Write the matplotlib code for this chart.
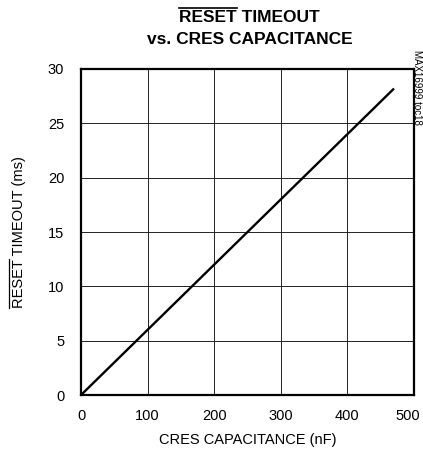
import matplotlib
matplotlib.use('Agg')
import matplotlib.pyplot as plt
import matplotlib.transforms as mtransforms
from matplotlib.lines import Line2D
from matplotlib import font_manager

names = {f.name for f in font_manager.fontManager.ttflist}
narrow = 'Liberation Sans Narrow' if 'Liberation Sans Narrow' in names else 'Liberation Sans'
plt.rcParams['font.family'] = [narrow, 'DejaVu Sans']

# data: RESET timeout vs CRES capacitance
cap_nf = [0, 470]
timeout_ms = [0, 28.2]
x_ticks = [0, 100, 200, 300, 400, 500]
y_ticks = [0, 5, 10, 15, 20, 25, 30]

fig = plt.figure(figsize=(4.23, 4.59), dpi=100)
ax = fig.add_axes([0.1915, 0.1394, 0.7872, 0.7103])

ax.plot(cap_nf, timeout_ms, color='black', lw=1.7, solid_capstyle='butt')
ax.set_xlim(0, 500)
ax.set_ylim(0, 30)
ax.set_xticks(x_ticks)
ax.set_yticks(y_ticks)
ax.grid(True, color='#222222', lw=0.7)
ax.tick_params(length=0, labelsize=10.5)
ax.tick_params(axis='y', pad=12)
ax.tick_params(axis='x', labelbottom=False)
for s in ax.spines.values():
    s.set_linewidth(1.6)

# x tick labels drawn by hand so the last one stays inside the picture
trans = mtransforms.blended_transform_factory(ax.transData, ax.transAxes)
for i, v in enumerate(x_ticks):
    last = i == len(x_ticks) - 1
    off = mtransforms.ScaledTranslation(4.5 / 72 if last else 0, -10 / 72,
                                        fig.dpi_scale_trans)
    ax.text(v, 0, str(v), transform=trans + off, fontsize=10.5,
            ha='right' if last else 'center', va='top')

ax.set_xlabel('CRES CAPACITANCE (nF)', fontsize=10.5, labelpad=27)
ylab = ax.set_ylabel('RESET TIMEOUT (ms)', fontsize=10.5, labelpad=16)

# title
t1 = fig.text(0.59, 0.978, 'RESET TIMEOUT', ha='center', va='top',
              fontsize=12.5, fontweight='bold')
fig.text(0.59, 0.930, 'vs. CRES CAPACITANCE', ha='center', va='top',
         fontsize=12.5, fontweight='bold')

fig.text(0.985, 0.89, 'MAX16999 toc18', rotation=270, ha='center', va='top',
         fontsize=7)

# overlines on "RESET"
fig.canvas.draw()
r = fig.canvas.get_renderer()
W, H = fig.bbox.width, fig.bbox.height

bb = t1.get_window_extent(r)
tmp = fig.text(0, 0, 'RESET', fontsize=12.5, fontweight='bold')
w = tmp.get_window_extent(r).width
tmp.remove()
y = bb.y1 + 2
fig.add_artist(Line2D([bb.x0 / W, (bb.x0 + w) / W], [y / H, y / H],
                      transform=fig.transFigure, color='black', lw=1.2))

bb = ylab.get_window_extent(r)
tmp = fig.text(0, 0, 'RESET', fontsize=10.5)
w = tmp.get_window_extent(r).width
tmp.remove()
x = bb.x0 - 2.5
fig.add_artist(Line2D([x / W, x / W], [bb.y0 / H, (bb.y0 + w) / H],
                      transform=fig.transFigure, color='black', lw=0.9))

fig.savefig('out.png', dpi=100)
